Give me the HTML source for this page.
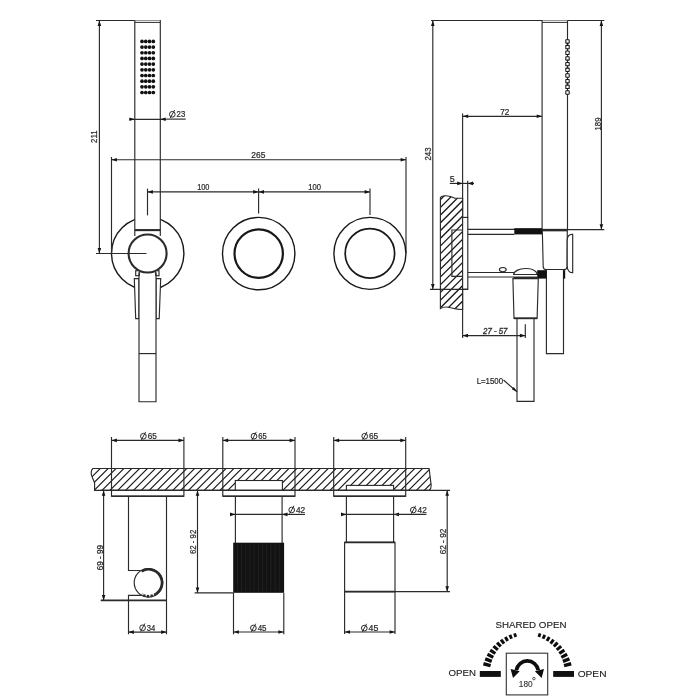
<!DOCTYPE html>
<html><head><meta charset="utf-8"><style>
html,body{margin:0;padding:0;background:#fff;}
svg{display:block;font-family:"Liberation Sans",sans-serif;will-change:transform;}
</style></head><body>
<svg width="700" height="700" viewBox="0 0 700 700">
<rect width="700" height="700" fill="#fff"/>
<line x1="96" y1="20.5" x2="160.8" y2="20.5" stroke="#2a2a2a" stroke-width="1.15"/>
<line x1="99.4" y1="20.5" x2="99.4" y2="253.5" stroke="#2a2a2a" stroke-width="1.15"/>
<path d="M99.4,20.5 L101.2,25.9 L97.6,25.9 Z" fill="#151515"/>
<path d="M99.4,253.5 L97.6,248.1 L101.2,248.1 Z" fill="#151515"/>
<text x="97.3" y="136.65" font-size="8.2" fill="#2a2a2a" stroke="#2a2a2a" stroke-width="0.22" text-anchor="middle" textLength="12.6" lengthAdjust="spacingAndGlyphs" transform="rotate(-90 97.3 136.65)">211</text>
<circle cx="147.7" cy="253.4" r="36.2" fill="none" stroke="#181818" stroke-width="1.4"/>
<rect x="134.8" y="20.5" width="25.5" height="214" fill="#fff"/>
<line x1="134.8" y1="20.5" x2="134.8" y2="236" stroke="#2a2a2a" stroke-width="1.15"/>
<line x1="160.3" y1="20.5" x2="160.3" y2="236" stroke="#2a2a2a" stroke-width="1.15"/>
<line x1="134.8" y1="22.4" x2="160.3" y2="22.4" stroke="#2a2a2a" stroke-width="1"/>
<line x1="134.8" y1="230.1" x2="160.3" y2="230.1" stroke="#2a2a2a" stroke-width="2.1"/>
<line x1="111.5" y1="157" x2="111.5" y2="253" stroke="#2a2a2a" stroke-width="1.15"/>
<line x1="406" y1="157" x2="406" y2="253" stroke="#2a2a2a" stroke-width="1.15"/>
<line x1="111.5" y1="159.7" x2="406" y2="159.7" stroke="#2a2a2a" stroke-width="1.15"/>
<path d="M111.5,159.7 L116.9,157.9 L116.9,161.5 Z" fill="#151515"/>
<path d="M406,159.7 L400.6,161.5 L400.6,157.9 Z" fill="#151515"/>
<text x="251.35" y="158.1" font-size="8.2" fill="#2a2a2a" stroke="#2a2a2a" stroke-width="0.22" textLength="14.1" lengthAdjust="spacingAndGlyphs">265</text>
<line x1="147.5" y1="191.9" x2="370" y2="191.9" stroke="#2a2a2a" stroke-width="1.15"/>
<path d="M147.5,191.9 L152.9,190.1 L152.9,193.7 Z" fill="#151515"/>
<path d="M258.6,191.9 L253.2,193.7 L253.2,190.1 Z" fill="#151515"/>
<path d="M258.6,191.9 L264,190.1 L264,193.7 Z" fill="#151515"/>
<path d="M370,191.9 L364.6,193.7 L364.6,190.1 Z" fill="#151515"/>
<line x1="258.6" y1="188.6" x2="258.6" y2="213.6" stroke="#2a2a2a" stroke-width="1.15"/>
<line x1="370" y1="188.6" x2="370" y2="215" stroke="#2a2a2a" stroke-width="1.15"/>
<text x="197.15" y="189.9" font-size="8.2" fill="#2a2a2a" stroke="#2a2a2a" stroke-width="0.22" textLength="12.3" lengthAdjust="spacingAndGlyphs">100</text>
<text x="308.25" y="189.9" font-size="8.2" fill="#2a2a2a" stroke="#2a2a2a" stroke-width="0.22" textLength="12.7" lengthAdjust="spacingAndGlyphs">100</text>
<line x1="147.5" y1="188.6" x2="147.5" y2="215.4" stroke="#2a2a2a" stroke-width="1.15"/>
<circle cx="142" cy="41.4" r="1.85" fill="#111"/>
<circle cx="145.77" cy="41.4" r="1.85" fill="#111"/>
<circle cx="149.54" cy="41.4" r="1.85" fill="#111"/>
<circle cx="153.31" cy="41.4" r="1.85" fill="#111"/>
<circle cx="142" cy="47.08" r="1.85" fill="#111"/>
<circle cx="145.77" cy="47.08" r="1.85" fill="#111"/>
<circle cx="149.54" cy="47.08" r="1.85" fill="#111"/>
<circle cx="153.31" cy="47.08" r="1.85" fill="#111"/>
<circle cx="142" cy="52.76" r="1.85" fill="#111"/>
<circle cx="145.77" cy="52.76" r="1.85" fill="#111"/>
<circle cx="149.54" cy="52.76" r="1.85" fill="#111"/>
<circle cx="153.31" cy="52.76" r="1.85" fill="#111"/>
<circle cx="142" cy="58.44" r="1.85" fill="#111"/>
<circle cx="145.77" cy="58.44" r="1.85" fill="#111"/>
<circle cx="149.54" cy="58.44" r="1.85" fill="#111"/>
<circle cx="153.31" cy="58.44" r="1.85" fill="#111"/>
<circle cx="142" cy="64.12" r="1.85" fill="#111"/>
<circle cx="145.77" cy="64.12" r="1.85" fill="#111"/>
<circle cx="149.54" cy="64.12" r="1.85" fill="#111"/>
<circle cx="153.31" cy="64.12" r="1.85" fill="#111"/>
<circle cx="142" cy="69.8" r="1.85" fill="#111"/>
<circle cx="145.77" cy="69.8" r="1.85" fill="#111"/>
<circle cx="149.54" cy="69.8" r="1.85" fill="#111"/>
<circle cx="153.31" cy="69.8" r="1.85" fill="#111"/>
<circle cx="142" cy="75.48" r="1.85" fill="#111"/>
<circle cx="145.77" cy="75.48" r="1.85" fill="#111"/>
<circle cx="149.54" cy="75.48" r="1.85" fill="#111"/>
<circle cx="153.31" cy="75.48" r="1.85" fill="#111"/>
<circle cx="142" cy="81.16" r="1.85" fill="#111"/>
<circle cx="145.77" cy="81.16" r="1.85" fill="#111"/>
<circle cx="149.54" cy="81.16" r="1.85" fill="#111"/>
<circle cx="153.31" cy="81.16" r="1.85" fill="#111"/>
<circle cx="142" cy="86.84" r="1.85" fill="#111"/>
<circle cx="145.77" cy="86.84" r="1.85" fill="#111"/>
<circle cx="149.54" cy="86.84" r="1.85" fill="#111"/>
<circle cx="153.31" cy="86.84" r="1.85" fill="#111"/>
<circle cx="142" cy="92.52" r="1.85" fill="#111"/>
<circle cx="145.77" cy="92.52" r="1.85" fill="#111"/>
<circle cx="149.54" cy="92.52" r="1.85" fill="#111"/>
<circle cx="153.31" cy="92.52" r="1.85" fill="#111"/>
<line x1="129.3" y1="119.3" x2="166.4" y2="119.3" stroke="#2a2a2a" stroke-width="1.15"/>
<path d="M134.8,119.3 L129.4,121.1 L129.4,117.5 Z" fill="#151515"/>
<path d="M160.3,119.3 L165.7,117.5 L165.7,121.1 Z" fill="#151515"/>
<line x1="166.4" y1="119.1" x2="185.7" y2="119.1" stroke="#2a2a2a" stroke-width="1.15"/>
<circle cx="172.3" cy="114.3" r="2.85" fill="none" stroke="#222" stroke-width="0.95"/>
<line x1="170.3" y1="118" x2="174.6" y2="110" stroke="#222" stroke-width="0.95"/>
<text x="176.55" y="117.2" font-size="8.2" fill="#2a2a2a" stroke="#2a2a2a" stroke-width="0.22" textLength="8.7" lengthAdjust="spacingAndGlyphs">23</text>
<circle cx="147.6" cy="253.5" r="19" fill="#fff" stroke="#2a2a2a" stroke-width="2.1"/>
<line x1="96" y1="253.5" x2="146.5" y2="253.5" stroke="#2a2a2a" stroke-width="1.15"/>
<rect x="135.7" y="270.7" width="3.6" height="5" fill="#fff" stroke="#2a2a2a" stroke-width="1.15"/>
<rect x="155.7" y="270.7" width="3.3" height="5" fill="#fff" stroke="#2a2a2a" stroke-width="1.15"/>
<path d="M134.3,278.6 L139,278.6 L139,318.6 L135.7,318.6 Z" fill="#fff" stroke="#2a2a2a" stroke-width="1.15"/>
<path d="M156,278.6 L160.7,278.6 L159.2,318.6 L156,318.6 Z" fill="#fff" stroke="#2a2a2a" stroke-width="1.15"/>
<rect x="139" y="276" width="17" height="125.7" fill="#fff"/>
<path d="M139,272.5 L139,401.7 L156,401.7 L156,272.5" fill="none" stroke="#2a2a2a" stroke-width="1.15"/>
<line x1="139" y1="353.6" x2="156" y2="353.6" stroke="#2a2a2a" stroke-width="1.15"/>
<circle cx="258.7" cy="253.6" r="36.2" fill="none" stroke="#181818" stroke-width="1.4"/>
<circle cx="258.7" cy="253.6" r="24.2" fill="none" stroke="#181818" stroke-width="2.2"/>
<circle cx="369.9" cy="253.4" r="36" fill="none" stroke="#181818" stroke-width="1.4"/>
<circle cx="369.9" cy="253.4" r="24.7" fill="none" stroke="#181818" stroke-width="1.7"/>
<line x1="431" y1="20.5" x2="604.3" y2="20.5" stroke="#2a2a2a" stroke-width="1.15"/>
<line x1="432.8" y1="20.5" x2="432.8" y2="289.3" stroke="#2a2a2a" stroke-width="1.15"/>
<path d="M432.8,20.5 L434.6,25.9 L431,25.9 Z" fill="#151515"/>
<path d="M432.8,289.3 L431,283.9 L434.6,283.9 Z" fill="#151515"/>
<text x="431.2" y="154" font-size="8.2" fill="#2a2a2a" stroke="#2a2a2a" stroke-width="0.22" text-anchor="middle" textLength="12.9" lengthAdjust="spacingAndGlyphs" transform="rotate(-90 431.2 154)">243</text>
<line x1="601.4" y1="20.5" x2="601.4" y2="229.6" stroke="#2a2a2a" stroke-width="1.15"/>
<path d="M601.4,20.5 L603.2,25.9 L599.6,25.9 Z" fill="#151515"/>
<path d="M601.4,229.6 L599.6,224.2 L603.2,224.2 Z" fill="#151515"/>
<text x="600.6" y="124" font-size="8.2" fill="#2a2a2a" stroke="#2a2a2a" stroke-width="0.22" text-anchor="middle" textLength="12.9" lengthAdjust="spacingAndGlyphs" transform="rotate(-90 600.6 124)">189</text>
<rect x="542.1" y="20.5" width="25.4" height="209.5" fill="#fff"/>
<line x1="542.1" y1="20.5" x2="542.1" y2="230" stroke="#2a2a2a" stroke-width="1.15"/>
<line x1="567.5" y1="20.5" x2="567.5" y2="230" stroke="#2a2a2a" stroke-width="1.15"/>
<line x1="542.1" y1="22.4" x2="567.5" y2="22.4" stroke="#2a2a2a" stroke-width="1"/>
<rect x="565.8" y="39.7" width="3.4" height="3.4" rx="0.4" fill="#fff" stroke="#151515" stroke-width="1.05"/>
<rect x="565.8" y="45.38" width="3.4" height="3.4" rx="0.4" fill="#fff" stroke="#151515" stroke-width="1.05"/>
<rect x="565.8" y="51.06" width="3.4" height="3.4" rx="0.4" fill="#fff" stroke="#151515" stroke-width="1.05"/>
<rect x="565.8" y="56.74" width="3.4" height="3.4" rx="0.4" fill="#fff" stroke="#151515" stroke-width="1.05"/>
<rect x="565.8" y="62.42" width="3.4" height="3.4" rx="0.4" fill="#fff" stroke="#151515" stroke-width="1.05"/>
<rect x="565.8" y="68.1" width="3.4" height="3.4" rx="0.4" fill="#fff" stroke="#151515" stroke-width="1.05"/>
<rect x="565.8" y="73.78" width="3.4" height="3.4" rx="0.4" fill="#fff" stroke="#151515" stroke-width="1.05"/>
<rect x="565.8" y="79.46" width="3.4" height="3.4" rx="0.4" fill="#fff" stroke="#151515" stroke-width="1.05"/>
<rect x="565.8" y="85.14" width="3.4" height="3.4" rx="0.4" fill="#fff" stroke="#151515" stroke-width="1.05"/>
<rect x="565.8" y="90.82" width="3.4" height="3.4" rx="0.4" fill="#fff" stroke="#151515" stroke-width="1.05"/>
<line x1="462.8" y1="116.3" x2="542.1" y2="116.3" stroke="#2a2a2a" stroke-width="1.15"/>
<path d="M462.8,116.3 L468.2,114.5 L468.2,118.1 Z" fill="#151515"/>
<path d="M542.1,116.3 L536.7,118.1 L536.7,114.5 Z" fill="#151515"/>
<text x="500.15" y="115.1" font-size="8.2" fill="#2a2a2a" stroke="#2a2a2a" stroke-width="0.22" textLength="9.1" lengthAdjust="spacingAndGlyphs">72</text>
<line x1="462.6" y1="113.5" x2="462.6" y2="338" stroke="#2a2a2a" stroke-width="1.15"/>
<line x1="467.7" y1="180.7" x2="467.7" y2="217.5" stroke="#2a2a2a" stroke-width="1.15"/>
<line x1="449.8" y1="183.4" x2="474" y2="183.4" stroke="#2a2a2a" stroke-width="1.15"/>
<path d="M462.6,183.4 L457.2,185.2 L457.2,181.6 Z" fill="#151515"/>
<path d="M467.7,183.4 L473.1,181.6 L473.1,185.2 Z" fill="#151515"/>
<text x="449.65" y="181.8" font-size="8.2" fill="#2a2a2a" stroke="#2a2a2a" stroke-width="0.22" textLength="5" lengthAdjust="spacingAndGlyphs">5</text>
<clipPath id="clip1"><path d="M440.4,197.5 C442,195 449,195 455,198.2 L462.6,198.2 L462.6,309.5 C456,310 450,307 446,307 C443.5,307 441.5,307.8 440.4,308.6 Z"/></clipPath>
<path d="M440.4,197.5 C442,195 449,195 455,198.2 L462.6,198.2 L462.6,309.5 C456,310 450,307 446,307 C443.5,307 441.5,307.8 440.4,308.6 Z" fill="#fff" stroke="none"/>
<path d="M311.61,313 L431.61,193 M319.34,313 L439.34,193 M327.07,313 L447.07,193 M334.8,313 L454.8,193 M342.53,313 L462.53,193 M350.26,313 L470.26,193 M357.99,313 L477.99,193 M365.72,313 L485.72,193 M373.45,313 L493.45,193 M381.18,313 L501.18,193 M388.91,313 L508.91,193 M396.64,313 L516.64,193 M404.37,313 L524.37,193 M412.1,313 L532.1,193 M419.83,313 L539.83,193 M427.56,313 L547.56,193 M435.29,313 L555.29,193 M443.02,313 L563.02,193 M450.75,313 L570.75,193 M458.48,313 L578.48,193 M466.21,313 L586.21,193 M473.94,313 L593.94,193" stroke="#1a1a1a" stroke-width="1.3" fill="none" clip-path="url(#clip1)"/>
<path d="M440.4,197.5 C442,195 449,195 455,198.2 L462.6,198.2 L462.6,309.5 C456,310 450,307 446,307 C443.5,307 441.5,307.8 440.4,308.6 Z" fill="none" stroke="#2a2a2a" stroke-width="1.15"/>
<path d="M462.6,230 L451.9,230 L451.9,276.4 L462.6,276.4" fill="none" stroke="#2a2a2a" stroke-width="1.15"/>
<rect x="462.6" y="217.4" width="5.2" height="71.9" fill="#fff" stroke="#2a2a2a" stroke-width="1.15"/>
<line x1="430" y1="289.3" x2="467.8" y2="289.3" stroke="#2a2a2a" stroke-width="1.15"/>
<line x1="467.8" y1="229.4" x2="542.1" y2="229.4" stroke="#2a2a2a" stroke-width="1.15"/>
<line x1="467.8" y1="234.4" x2="514.3" y2="234.4" stroke="#2a2a2a" stroke-width="1.15"/>
<rect x="514.3" y="228.2" width="27.8" height="6.2" fill="#111"/>
<line x1="567.5" y1="229.6" x2="604.3" y2="229.6" stroke="#2a2a2a" stroke-width="1.15"/>
<path d="M542.3,229.6 L567.3,229.6 L567.1,266.5 Q567,269.6 564,269.6 L546,269.6 Q543.3,269.6 543.2,266.5 L542.4,234 Z" fill="#fff" stroke="#2a2a2a" stroke-width="1.15"/>
<line x1="542.1" y1="230.1" x2="567.5" y2="230.1" stroke="#2a2a2a" stroke-width="2.5"/>
<path d="M567.2,240 Q567.5,234.4 572,234.4 L572.7,234.4 L572.7,272.6 L572,272.6 Q567.6,272.6 567.2,266 Z" fill="#fff" stroke="#2a2a2a" stroke-width="1.15"/>
<line x1="467.8" y1="272.5" x2="514" y2="272.5" stroke="#2a2a2a" stroke-width="1.15"/>
<line x1="467.8" y1="277" x2="514" y2="277" stroke="#2a2a2a" stroke-width="1.15"/>
<ellipse cx="502.8" cy="269.6" rx="3.4" ry="2.1" fill="#fff" stroke="#262626" stroke-width="1.1"/>
<path d="M513.6,274.5 C515,267 535,266 537.4,274.5 Z" fill="#fff" stroke="#2a2a2a" stroke-width="1.15"/>
<line x1="513.6" y1="277.3" x2="537.4" y2="277.3" stroke="#2a2a2a" stroke-width="1.5"/>
<rect x="546.4" y="270" width="17.1" height="83.6" fill="#fff"/>
<path d="M546.4,270 L546.4,353.6 L563.5,353.6 L563.5,270" fill="none" stroke="#2a2a2a" stroke-width="1.15"/>
<rect x="537.2" y="270.2" width="9.4" height="8.4" fill="#111"/>
<rect x="563.3" y="270.2" width="1.9" height="8.4" fill="#111"/>
<path d="M512.9,278.6 L538.3,278.6 L537.1,318.3 L514,318.3 Z" fill="#fff" stroke="#2a2a2a" stroke-width="1.15"/>
<line x1="514" y1="318.3" x2="537.1" y2="318.3" stroke="#2a2a2a" stroke-width="1.8"/>
<path d="M517,318.3 L517,401.4 L534,401.4 L534,318.3" fill="none" stroke="#2a2a2a" stroke-width="1.15"/>
<line x1="462.6" y1="335.6" x2="525.3" y2="335.6" stroke="#2a2a2a" stroke-width="1.15"/>
<path d="M462.6,335.6 L468,333.8 L468,337.4 Z" fill="#151515"/>
<path d="M525.3,335.6 L519.9,337.4 L519.9,333.8 Z" fill="#151515"/>
<line x1="525.3" y1="324.3" x2="525.3" y2="338" stroke="#2a2a2a" stroke-width="1.15"/>
<text x="483.05" y="334.1" font-size="8.2" fill="#2a2a2a" stroke="#2a2a2a" stroke-width="0.3" textLength="24.4" lengthAdjust="spacingAndGlyphs" font-style="italic">27 - 57</text>
<text x="476.65" y="383.6" font-size="8.2" fill="#2a2a2a" stroke="#2a2a2a" stroke-width="0.22" textLength="26.4" lengthAdjust="spacingAndGlyphs">L=1500</text>
<line x1="503.5" y1="380" x2="517" y2="391.8" stroke="#2a2a2a" stroke-width="1.15"/>
<path d="M517,391.8 L511.87,389.31 L513.85,387.05 Z" fill="#151515"/>
<clipPath id="clip2"><path d="M93,468.5 L429.1,468.5 L430.9,483 C431.6,487 430.5,489.5 429,490.4 L94.6,490.4 L94.6,483 C93,478 91,476 91.2,473 C91.3,470.5 92,469 93,468.5 Z"/></clipPath>
<path d="M93,468.5 L429.1,468.5 L430.9,483 C431.6,487 430.5,489.5 429,490.4 L94.6,490.4 L94.6,483 C93,478 91,476 91.2,473 C91.3,470.5 92,469 93,468.5 Z" fill="#fff" stroke="none"/>
<path d="M51.22,494 L80.22,465 M59.08,494 L88.08,465 M66.94,494 L95.94,465 M74.8,494 L103.8,465 M82.66,494 L111.66,465 M90.52,494 L119.52,465 M98.38,494 L127.38,465 M106.24,494 L135.24,465 M114.1,494 L143.1,465 M121.96,494 L150.96,465 M129.82,494 L158.82,465 M137.68,494 L166.68,465 M145.54,494 L174.54,465 M153.4,494 L182.4,465 M161.26,494 L190.26,465 M169.12,494 L198.12,465 M176.98,494 L205.98,465 M184.84,494 L213.84,465 M192.7,494 L221.7,465 M200.56,494 L229.56,465 M208.42,494 L237.42,465 M216.28,494 L245.28,465 M224.14,494 L253.14,465 M232,494 L261,465 M239.86,494 L268.86,465 M247.72,494 L276.72,465 M255.58,494 L284.58,465 M263.44,494 L292.44,465 M271.3,494 L300.3,465 M279.16,494 L308.16,465 M287.02,494 L316.02,465 M294.88,494 L323.88,465 M302.74,494 L331.74,465 M310.6,494 L339.6,465 M318.46,494 L347.46,465 M326.32,494 L355.32,465 M334.18,494 L363.18,465 M342.04,494 L371.04,465 M349.9,494 L378.9,465 M357.76,494 L386.76,465 M365.62,494 L394.62,465 M373.48,494 L402.48,465 M381.34,494 L410.34,465 M389.2,494 L418.2,465 M397.06,494 L426.06,465 M404.92,494 L433.92,465 M412.78,494 L441.78,465 M420.64,494 L449.64,465 M428.5,494 L457.5,465 M436.36,494 L465.36,465 M444.22,494 L473.22,465" stroke="#1a1a1a" stroke-width="1.15" fill="none" clip-path="url(#clip2)"/>
<path d="M93,468.5 L429.1,468.5 L430.9,483 C431.6,487 430.5,489.5 429,490.4 L94.6,490.4 L94.6,483 C93,478 91,476 91.2,473 C91.3,470.5 92,469 93,468.5 Z" fill="none" stroke="#2a2a2a" stroke-width="1.15"/>
<rect x="235.3" y="480.5" width="47.1" height="9.9" fill="#fff" stroke="#262626" stroke-width="1.1"/>
<rect x="346.4" y="485.4" width="47.2" height="5" fill="#fff" stroke="#262626" stroke-width="1.1"/>
<line x1="100" y1="490.4" x2="450" y2="490.4" stroke="#2a2a2a" stroke-width="1.15"/>
<line x1="111.5" y1="440.4" x2="183.9" y2="440.4" stroke="#2a2a2a" stroke-width="1.15"/>
<path d="M111.5,440.4 L116.9,438.6 L116.9,442.2 Z" fill="#151515"/>
<path d="M183.9,440.4 L178.5,442.2 L178.5,438.6 Z" fill="#151515"/>
<line x1="111.5" y1="437" x2="111.5" y2="490.4" stroke="#2a2a2a" stroke-width="1.15"/>
<line x1="183.9" y1="437" x2="183.9" y2="490.4" stroke="#2a2a2a" stroke-width="1.15"/>
<circle cx="143.4" cy="436.2" r="2.85" fill="none" stroke="#222" stroke-width="0.95"/>
<line x1="141.4" y1="439.9" x2="145.7" y2="431.9" stroke="#222" stroke-width="0.95"/>
<text x="147.65" y="439.1" font-size="8.2" fill="#2a2a2a" stroke="#2a2a2a" stroke-width="0.22" textLength="9.1" lengthAdjust="spacingAndGlyphs">65</text>
<rect x="111.5" y="490.4" width="72.4" height="5.8" fill="#fff" stroke="#2a2a2a" stroke-width="1.15"/>
<line x1="111.5" y1="496.2" x2="183.9" y2="496.2" stroke="#2a2a2a" stroke-width="1.6"/>
<line x1="222.8" y1="440.4" x2="295" y2="440.4" stroke="#2a2a2a" stroke-width="1.15"/>
<path d="M222.8,440.4 L228.2,438.6 L228.2,442.2 Z" fill="#151515"/>
<path d="M295,440.4 L289.6,442.2 L289.6,438.6 Z" fill="#151515"/>
<line x1="222.8" y1="437" x2="222.8" y2="490.4" stroke="#2a2a2a" stroke-width="1.15"/>
<line x1="295" y1="437" x2="295" y2="490.4" stroke="#2a2a2a" stroke-width="1.15"/>
<circle cx="254" cy="436.2" r="2.85" fill="none" stroke="#222" stroke-width="0.95"/>
<line x1="252" y1="439.9" x2="256.3" y2="431.9" stroke="#222" stroke-width="0.95"/>
<text x="258.25" y="439.1" font-size="8.2" fill="#2a2a2a" stroke="#2a2a2a" stroke-width="0.22" textLength="8.5" lengthAdjust="spacingAndGlyphs">65</text>
<rect x="222.8" y="490.4" width="72.2" height="5.8" fill="#fff" stroke="#2a2a2a" stroke-width="1.15"/>
<line x1="222.8" y1="496.2" x2="295" y2="496.2" stroke="#2a2a2a" stroke-width="1.6"/>
<line x1="333.7" y1="440.4" x2="405.7" y2="440.4" stroke="#2a2a2a" stroke-width="1.15"/>
<path d="M333.7,440.4 L339.1,438.6 L339.1,442.2 Z" fill="#151515"/>
<path d="M405.7,440.4 L400.3,442.2 L400.3,438.6 Z" fill="#151515"/>
<line x1="333.7" y1="437" x2="333.7" y2="490.4" stroke="#2a2a2a" stroke-width="1.15"/>
<line x1="405.7" y1="437" x2="405.7" y2="490.4" stroke="#2a2a2a" stroke-width="1.15"/>
<circle cx="364.7" cy="436.2" r="2.85" fill="none" stroke="#222" stroke-width="0.95"/>
<line x1="362.7" y1="439.9" x2="367" y2="431.9" stroke="#222" stroke-width="0.95"/>
<text x="368.95" y="439.1" font-size="8.2" fill="#2a2a2a" stroke="#2a2a2a" stroke-width="0.22" textLength="9.3" lengthAdjust="spacingAndGlyphs">65</text>
<rect x="333.7" y="490.4" width="72" height="5.8" fill="#fff" stroke="#2a2a2a" stroke-width="1.15"/>
<line x1="333.7" y1="496.2" x2="405.7" y2="496.2" stroke="#2a2a2a" stroke-width="1.6"/>
<path d="M128.5,496.2 L128.5,570.5 L141,570.5" fill="none" stroke="#2a2a2a" stroke-width="1.15"/>
<path d="M128.5,634.3 L128.5,595.4 L141,595.4" fill="none" stroke="#2a2a2a" stroke-width="1.15"/>
<line x1="166.5" y1="496.2" x2="166.5" y2="634.3" stroke="#2a2a2a" stroke-width="1.15"/>
<circle cx="148.5" cy="582.8" r="14.3" fill="#fff" stroke="#2a2a2a" stroke-width="1.15"/>
<path d="M141.6,571.31 A13.4,13.4 0 0 1 156.19,593.78" fill="none" stroke="#2a2a2a" stroke-width="2.6"/>
<path d="M156.19,593.78 A13.4,13.4 0 0 1 141.6,594.29" fill="none" stroke="#2a2a2a" stroke-width="2.6" stroke-dasharray="2.4 1.3"/>
<line x1="100.7" y1="600.4" x2="166.5" y2="600.4" stroke="#2a2a2a" stroke-width="1.6"/>
<line x1="103.6" y1="490.4" x2="103.6" y2="600.4" stroke="#2a2a2a" stroke-width="1.15"/>
<path d="M103.6,490.4 L105.4,495.8 L101.8,495.8 Z" fill="#151515"/>
<path d="M103.6,600.4 L101.8,595 L105.4,595 Z" fill="#151515"/>
<text x="102.9" y="557.65" font-size="8.2" fill="#2a2a2a" stroke="#2a2a2a" stroke-width="0.22" text-anchor="middle" textLength="25.4" lengthAdjust="spacingAndGlyphs" transform="rotate(-90 102.9 557.65)">69 - 99</text>
<line x1="128.5" y1="632.1" x2="166.5" y2="632.1" stroke="#2a2a2a" stroke-width="1.15"/>
<path d="M128.5,632.1 L133.9,630.3 L133.9,633.9 Z" fill="#151515"/>
<path d="M166.5,632.1 L161.1,633.9 L161.1,630.3 Z" fill="#151515"/>
<circle cx="142.6" cy="627.8" r="2.85" fill="none" stroke="#222" stroke-width="0.95"/>
<line x1="140.6" y1="631.5" x2="144.9" y2="623.5" stroke="#222" stroke-width="0.95"/>
<text x="146.85" y="630.7" font-size="8.2" fill="#2a2a2a" stroke="#2a2a2a" stroke-width="0.22" textLength="8.5" lengthAdjust="spacingAndGlyphs">34</text>
<line x1="235.4" y1="496.2" x2="235.4" y2="543" stroke="#2a2a2a" stroke-width="1.15"/>
<line x1="282.1" y1="496.2" x2="282.1" y2="543" stroke="#2a2a2a" stroke-width="1.15"/>
<rect x="233.2" y="542.7" width="50.9" height="50.1" fill="#121212"/>
<line x1="237.5" y1="544.5" x2="237.5" y2="591" stroke="#222" stroke-width="0.9"/>
<line x1="241.6" y1="544.5" x2="241.6" y2="591" stroke="#222" stroke-width="0.9"/>
<line x1="245.8" y1="544.5" x2="245.8" y2="591" stroke="#222" stroke-width="0.9"/>
<line x1="250" y1="544.5" x2="250" y2="591" stroke="#222" stroke-width="0.9"/>
<line x1="254.2" y1="544.5" x2="254.2" y2="591" stroke="#222" stroke-width="0.9"/>
<line x1="258.4" y1="544.5" x2="258.4" y2="591" stroke="#222" stroke-width="0.9"/>
<line x1="262.5" y1="544.5" x2="262.5" y2="591" stroke="#222" stroke-width="0.9"/>
<line x1="266.7" y1="544.5" x2="266.7" y2="591" stroke="#222" stroke-width="0.9"/>
<line x1="270.9" y1="544.5" x2="270.9" y2="591" stroke="#222" stroke-width="0.9"/>
<line x1="275.1" y1="544.5" x2="275.1" y2="591" stroke="#222" stroke-width="0.9"/>
<line x1="279.3" y1="544.5" x2="279.3" y2="591" stroke="#222" stroke-width="0.9"/>
<line x1="233.5" y1="593" x2="233.5" y2="634.3" stroke="#2a2a2a" stroke-width="1.15"/>
<line x1="283.8" y1="593" x2="283.8" y2="634.3" stroke="#2a2a2a" stroke-width="1.15"/>
<line x1="233.5" y1="632" x2="283.8" y2="632" stroke="#2a2a2a" stroke-width="1.15"/>
<path d="M233.5,632 L238.9,630.2 L238.9,633.8 Z" fill="#151515"/>
<path d="M283.8,632 L278.4,633.8 L278.4,630.2 Z" fill="#151515"/>
<circle cx="253.4" cy="628" r="2.85" fill="none" stroke="#222" stroke-width="0.95"/>
<line x1="251.4" y1="631.7" x2="255.7" y2="623.7" stroke="#222" stroke-width="0.95"/>
<text x="257.65" y="630.9" font-size="8.2" fill="#2a2a2a" stroke="#2a2a2a" stroke-width="0.22" textLength="8.9" lengthAdjust="spacingAndGlyphs">45</text>
<line x1="230" y1="514.4" x2="287.9" y2="514.4" stroke="#2a2a2a" stroke-width="1.15"/>
<path d="M235.4,514.4 L230,516.2 L230,512.6 Z" fill="#151515"/>
<path d="M282.1,514.4 L287.5,512.6 L287.5,516.2 Z" fill="#151515"/>
<line x1="287.9" y1="514.4" x2="305" y2="514.4" stroke="#2a2a2a" stroke-width="1.15"/>
<circle cx="291.7" cy="510" r="2.85" fill="none" stroke="#222" stroke-width="0.95"/>
<line x1="289.7" y1="513.7" x2="294" y2="505.7" stroke="#222" stroke-width="0.95"/>
<text x="295.95" y="512.9" font-size="8.2" fill="#2a2a2a" stroke="#2a2a2a" stroke-width="0.22" textLength="9.3" lengthAdjust="spacingAndGlyphs">42</text>
<line x1="197.5" y1="490.4" x2="197.5" y2="592.8" stroke="#2a2a2a" stroke-width="1.15"/>
<path d="M197.5,490.4 L199.3,495.8 L195.7,495.8 Z" fill="#151515"/>
<path d="M197.5,592.8 L195.7,587.4 L199.3,587.4 Z" fill="#151515"/>
<line x1="194.6" y1="592.8" x2="233.5" y2="592.8" stroke="#2a2a2a" stroke-width="1.15"/>
<text x="196.5" y="541.85" font-size="8.2" fill="#2a2a2a" stroke="#2a2a2a" stroke-width="0.22" text-anchor="middle" textLength="24.4" lengthAdjust="spacingAndGlyphs" transform="rotate(-90 196.5 541.85)">62 - 92</text>
<line x1="346.4" y1="496.2" x2="346.4" y2="542.4" stroke="#2a2a2a" stroke-width="1.15"/>
<line x1="393.6" y1="496.2" x2="393.6" y2="542.4" stroke="#2a2a2a" stroke-width="1.15"/>
<rect x="344.6" y="542.4" width="50.4" height="49.2" fill="#fff" stroke="#2a2a2a" stroke-width="1.15"/>
<line x1="344.6" y1="542.4" x2="395" y2="542.4" stroke="#2a2a2a" stroke-width="1.7"/>
<line x1="344.6" y1="591.6" x2="395" y2="591.6" stroke="#2a2a2a" stroke-width="1.7"/>
<line x1="344.6" y1="591.6" x2="344.6" y2="634" stroke="#2a2a2a" stroke-width="1.15"/>
<line x1="395" y1="591.6" x2="395" y2="634" stroke="#2a2a2a" stroke-width="1.15"/>
<line x1="344.6" y1="632" x2="395" y2="632" stroke="#2a2a2a" stroke-width="1.15"/>
<path d="M344.6,632 L350,630.2 L350,633.8 Z" fill="#151515"/>
<path d="M395,632 L389.6,633.8 L389.6,630.2 Z" fill="#151515"/>
<circle cx="364.3" cy="628.1" r="2.85" fill="none" stroke="#222" stroke-width="0.95"/>
<line x1="362.3" y1="631.8" x2="366.6" y2="623.8" stroke="#222" stroke-width="0.95"/>
<text x="368.55" y="631" font-size="8.2" fill="#2a2a2a" stroke="#2a2a2a" stroke-width="0.22" textLength="9.8" lengthAdjust="spacingAndGlyphs">45</text>
<line x1="341.4" y1="514.4" x2="393.6" y2="514.4" stroke="#2a2a2a" stroke-width="1.15"/>
<path d="M346.4,514.4 L341,516.2 L341,512.6 Z" fill="#151515"/>
<path d="M393.6,514.4 L399,512.6 L399,516.2 Z" fill="#151515"/>
<line x1="393.6" y1="514.4" x2="426.4" y2="514.4" stroke="#2a2a2a" stroke-width="1.15"/>
<circle cx="413.3" cy="510" r="2.85" fill="none" stroke="#222" stroke-width="0.95"/>
<line x1="411.3" y1="513.7" x2="415.6" y2="505.7" stroke="#222" stroke-width="0.95"/>
<text x="417.55" y="512.9" font-size="8.2" fill="#2a2a2a" stroke="#2a2a2a" stroke-width="0.22" textLength="9.2" lengthAdjust="spacingAndGlyphs">42</text>
<line x1="447.2" y1="490.4" x2="447.2" y2="591.6" stroke="#2a2a2a" stroke-width="1.15"/>
<path d="M447.2,490.4 L449,495.8 L445.4,495.8 Z" fill="#151515"/>
<path d="M447.2,591.6 L445.4,586.2 L449,586.2 Z" fill="#151515"/>
<line x1="395" y1="591.6" x2="450" y2="591.6" stroke="#2a2a2a" stroke-width="1.15"/>
<text x="446.3" y="541.5" font-size="8.2" fill="#2a2a2a" stroke="#2a2a2a" stroke-width="0.22" text-anchor="middle" textLength="25.7" lengthAdjust="spacingAndGlyphs" transform="rotate(-90 446.3 541.5)">62 - 92</text>
<text x="495.4" y="628" font-size="9.6" fill="#1a1a1a" stroke="#1a1a1a" stroke-width="0.12" textLength="71.1" lengthAdjust="spacingAndGlyphs">SHARED OPEN</text>
<text x="448.4" y="676.3" font-size="9.4" fill="#1a1a1a" stroke="#1a1a1a" stroke-width="0.12" textLength="27.5" lengthAdjust="spacingAndGlyphs">OPEN</text>
<text x="577.7" y="676.5" font-size="9.4" fill="#1a1a1a" stroke="#1a1a1a" stroke-width="0.12" textLength="28.8" lengthAdjust="spacingAndGlyphs">OPEN</text>
<rect x="479.8" y="671" width="21" height="5.9" fill="#111"/>
<rect x="553.2" y="671" width="20.8" height="5.9" fill="#111"/>
<rect x="506.3" y="653.2" width="41.4" height="41.7" fill="none" stroke="#333" stroke-width="1.1"/>
<line x1="490.59" y1="665.57" x2="483.42" y2="663.73" stroke="#0d0d0d" stroke-width="3.4"/>
<line x1="491.71" y1="661.4" x2="485.17" y2="658.9" stroke="#0d0d0d" stroke-width="3.33"/>
<line x1="493.3" y1="657.36" x2="487.45" y2="654.32" stroke="#0d0d0d" stroke-width="3.27"/>
<line x1="495.36" y1="653.51" x2="490.21" y2="650.05" stroke="#0d0d0d" stroke-width="3.2"/>
<line x1="497.85" y1="649.89" x2="493.43" y2="646.13" stroke="#0d0d0d" stroke-width="3.13"/>
<line x1="500.75" y1="646.57" x2="497.06" y2="642.62" stroke="#0d0d0d" stroke-width="3.07"/>
<line x1="504.02" y1="643.58" x2="501.05" y2="639.57" stroke="#0d0d0d" stroke-width="3"/>
<line x1="507.64" y1="640.97" x2="505.34" y2="636.99" stroke="#0d0d0d" stroke-width="2.93"/>
<line x1="511.54" y1="638.78" x2="509.87" y2="634.93" stroke="#0d0d0d" stroke-width="2.87"/>
<line x1="515.69" y1="637.03" x2="514.58" y2="633.4" stroke="#0d0d0d" stroke-width="2.8"/>
<line x1="564.01" y1="665.57" x2="571.18" y2="663.73" stroke="#0d0d0d" stroke-width="3.4"/>
<line x1="562.89" y1="661.4" x2="569.43" y2="658.9" stroke="#0d0d0d" stroke-width="3.33"/>
<line x1="561.3" y1="657.36" x2="567.15" y2="654.32" stroke="#0d0d0d" stroke-width="3.27"/>
<line x1="559.24" y1="653.51" x2="564.39" y2="650.05" stroke="#0d0d0d" stroke-width="3.2"/>
<line x1="556.75" y1="649.89" x2="561.17" y2="646.13" stroke="#0d0d0d" stroke-width="3.13"/>
<line x1="553.85" y1="646.57" x2="557.54" y2="642.62" stroke="#0d0d0d" stroke-width="3.07"/>
<line x1="550.58" y1="643.58" x2="553.55" y2="639.57" stroke="#0d0d0d" stroke-width="3"/>
<line x1="546.96" y1="640.97" x2="549.26" y2="636.99" stroke="#0d0d0d" stroke-width="2.93"/>
<line x1="543.06" y1="638.78" x2="544.73" y2="634.93" stroke="#0d0d0d" stroke-width="2.87"/>
<line x1="538.91" y1="637.03" x2="540.02" y2="633.4" stroke="#0d0d0d" stroke-width="2.8"/>
<path d="M516.34,670.26 A11.1,11.1 0 0 1 538.26,670.26" fill="none" stroke="#0d0d0d" stroke-width="3.7"/>
<path d="M510.6,668.9 L519.7,671.2 L513,678 Z" fill="#0d0d0d"/>
<path d="M544,668.9 L534.9,671.2 L541.6,678 Z" fill="#0d0d0d"/>
<text x="518.8" y="686.7" font-size="8.8" fill="#3a3a3a" stroke="#3a3a3a" stroke-width="0.15" textLength="13.8" lengthAdjust="spacingAndGlyphs">180</text>
<circle cx="533.9" cy="678.6" r="1.25" fill="none" stroke="#3a3a3a" stroke-width="0.9"/>
</svg></body></html>
